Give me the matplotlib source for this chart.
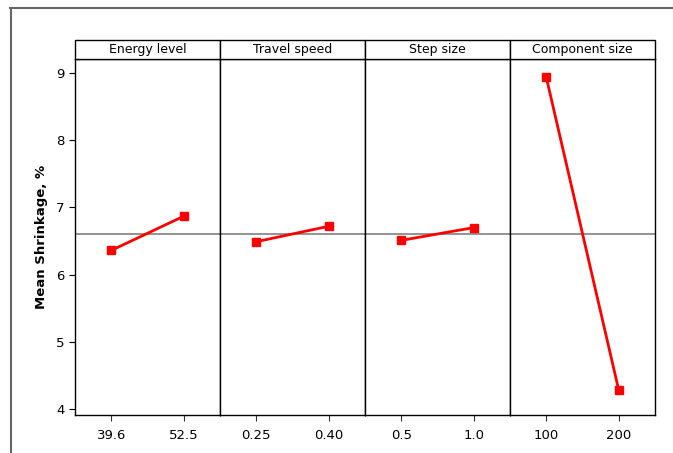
import numpy as np
import matplotlib.pyplot as plt
from matplotlib.patches import Rectangle
from matplotlib.lines import Line2D

factors = ['Energy level', 'Travel speed', 'Step size', 'Component size']
levels = [['39.6', '52.5'], ['0.25', '0.40'], ['0.5', '1.0'], ['100', '200']]
means = [[6.36, 6.87], [6.49, 6.72], [6.51, 6.70], [8.94, 4.28]]
grand_mean = np.mean(means)

fig = plt.figure(figsize=(6.73, 4.53), dpi=100)
fig.add_artist(Line2D([10/673, 1.0], [1-8/453, 1-8/453], color='#666666', lw=1.5))
fig.add_artist(Line2D([11/673, 11/673], [0.0, 1-8/453], color='#666666', lw=1.5))

left, right = 75/673, 655/673
bottom, top = 1-415/453, 1-59/453
strip_h = 19/453
w = (right - left) / 4

for i, name in enumerate(factors):
    ax = fig.add_axes([left + i*w, bottom, w, top - bottom])
    x = [1, 2]
    ax.axhline(grand_mean, color='#808080', lw=1.2, zorder=1)
    ax.plot(x, means[i], color='#ff0000', lw=2, marker='s', markersize=6, zorder=3)
    ax.set_xlim(0.5, 2.5)
    ax.set_ylim(3.91, 9.21)
    ax.set_xticks(x)
    ax.set_xticklabels(levels[i], fontsize=9.5)
    ax.tick_params(axis='x', direction='out', length=4, pad=6, color='#333333')
    for s in ax.spines.values():
        s.set_color('black')
        s.set_linewidth(1)
    if i == 0:
        ax.set_yticks([4, 5, 6, 7, 8, 9])
        ax.tick_params(axis='y', direction='out', length=4, labelsize=9.5)
        ax.set_ylabel('Mean Shrinkage, %', fontsize=9.5, fontweight='bold', labelpad=6)
    else:
        ax.set_yticks([])
    # strip header
    fig.add_artist(Rectangle((left + i*w, top), w, strip_h, transform=fig.transFigure,
                             facecolor='white', edgecolor='black', lw=1))
    fig.text(left + i*w + w/2, top + strip_h/2, name, ha='center', va='center', fontsize=9)

plt.savefig('out.png', dpi=100)
